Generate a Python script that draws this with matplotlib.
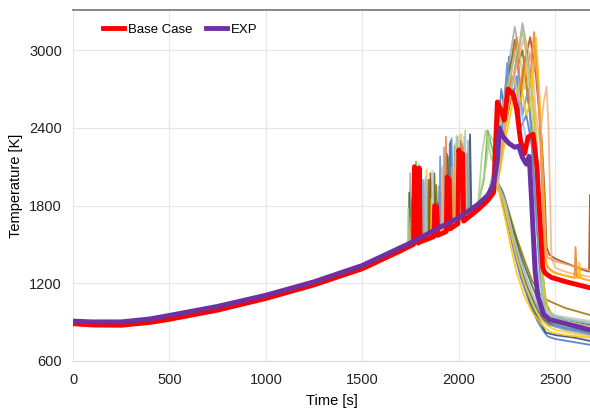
import numpy as np
import matplotlib.pyplot as plt

plt.rcParams['font.family'] = ['Liberation Sans', 'DejaVu Sans']

# shared heat-up part (before the spikes start)
base_time = [0, 100, 250, 400, 500, 750, 1000, 1250, 1500, 1700]
base_temp = [900, 895, 895, 915, 945, 1015, 1100, 1205, 1330, 1470]
base_temp_lo = [895, 888, 888, 905, 932, 998, 1082, 1183, 1302, 1440]

# ensemble runs, from 1700 s onwards
# group A: early decline, low tail
run01_time = [1700, 1760, 1763, 1770, 1905, 1908, 1915, 2040, 2043, 2050, 2100, 2150, 2190, 2210, 2230, 2260, 2290, 2320, 2350, 2380, 2410, 2440, 2460, 2500, 2600, 2680]
run01_temp = [1470, 1510, 2060, 1515, 1633, 1900, 1638, 1745, 2200, 1755, 1810, 1880, 1960, 1920, 1800, 1620, 1420, 1250, 1120, 1000, 900, 830, 790, 770, 745, 725]
run02_time = [1700, 1755, 1758, 1765, 1955, 1958, 1965, 2055, 2058, 2065, 2100, 2150, 2200, 2220, 2250, 2280, 2310, 2340, 2370, 2400, 2430, 2450, 2500, 2600, 2680]
run02_temp = [1470, 1505, 1850, 1510, 1665, 2300, 1670, 1760, 2350, 1770, 1810, 1880, 1970, 1930, 1750, 1550, 1350, 1200, 1060, 960, 880, 820, 800, 780, 755]
run03_time = [1700, 1790, 1793, 1800, 1880, 1883, 1890, 2010, 2013, 2020, 2100, 2150, 2190, 2210, 2240, 2270, 2300, 2340, 2380, 2420, 2450, 2480, 2550, 2680]
run03_temp = [1440, 1520, 2100, 1525, 1600, 1950, 1605, 1690, 2350, 1700, 1780, 1850, 1940, 1900, 1700, 1480, 1280, 1100, 980, 900, 850, 820, 800, 780]
run04_time = [1700, 1825, 1828, 1835, 1880, 1883, 1890, 1985, 1988, 1995, 2100, 2150, 2200, 2230, 2260, 2300, 2340, 2380, 2420, 2460, 2480, 2550, 2680]
run04_temp = [1470, 1565, 2000, 1570, 1620, 1960, 1625, 1690, 2200, 1695, 1810, 1880, 1980, 1900, 1750, 1550, 1380, 1220, 1120, 1070, 1055, 1010, 955]
run05_time = [1700, 1775, 1778, 1785, 1920, 1923, 1930, 2100, 2130, 2150, 2180, 2200, 2230, 2270, 2310, 2350, 2390, 2430, 2460, 2550, 2680]
run05_temp = [1470, 1515, 2140, 1520, 1645, 2050, 1650, 1810, 2000, 2380, 2200, 2000, 1850, 1600, 1350, 1150, 1000, 920, 880, 850, 820]
run06_time = [1700, 1745, 1748, 1755, 1865, 1868, 1875, 1990, 1993, 2000, 2100, 2150, 2200, 2230, 2270, 2310, 2350, 2390, 2430, 2470, 2550, 2680]
run06_temp = [1470, 1505, 2050, 1510, 1600, 1880, 1605, 1700, 2330, 1710, 1810, 1880, 1980, 1880, 1650, 1400, 1200, 1050, 950, 880, 840, 800]
run07_time = [1700, 1810, 1813, 1820, 1895, 1898, 1905, 1960, 1963, 1970, 2100, 2150, 2200, 2240, 2280, 2320, 2360, 2400, 2440, 2480, 2550, 2680]
run07_temp = [1470, 1550, 2000, 1555, 1625, 1950, 1630, 1670, 2320, 1675, 1810, 1880, 1975, 1850, 1600, 1380, 1200, 1050, 940, 880, 850, 810]
run08_time = [1700, 1785, 1788, 1795, 1850, 1853, 1860, 2020, 2023, 2030, 2100, 2150, 2200, 2240, 2280, 2320, 2360, 2400, 2440, 2470, 2550, 2680]
run08_temp = [1470, 1535, 1900, 1540, 1585, 2000, 1590, 1720, 2250, 1725, 1810, 1880, 1970, 1820, 1560, 1330, 1150, 1010, 920, 890, 870, 840]
run09_time = [1700, 1830, 1833, 1840, 1945, 1948, 1955, 2100, 2150, 2200, 2230, 2260, 2300, 2340, 2380, 2420, 2460, 2500, 2600, 2680]
run09_temp = [1440, 1550, 2080, 1555, 1640, 2150, 1645, 1780, 1850, 1950, 1850, 1650, 1400, 1200, 1050, 930, 870, 840, 810, 790]
run10_time = [1700, 1740, 1743, 1750, 1870, 1873, 1880, 1940, 1943, 1950, 2100, 2150, 2200, 2240, 2280, 2330, 2380, 2420, 2460, 2550, 2680]
run10_temp = [1470, 1500, 1900, 1505, 1605, 2050, 1610, 1660, 2180, 1665, 1810, 1880, 1975, 1840, 1620, 1380, 1180, 1040, 960, 920, 880]
# group B: big peak, then low tail
run11_time = [1700, 1780, 1783, 1790, 1890, 1893, 1900, 1950, 1953, 1960, 2100, 2150, 2180, 2200, 2220, 2240, 2260, 2280, 2300, 2320, 2350, 2380, 2400, 2420, 2440, 2470, 2550, 2680]
run11_temp = [1470, 1530, 2080, 1535, 1620, 1820, 1625, 1665, 2280, 1670, 1810, 1880, 1940, 2300, 2700, 2500, 2950, 2600, 2800, 2400, 2500, 2250, 1800, 1300, 1000, 900, 860, 830]
run12_time = [1700, 1815, 1818, 1825, 1920, 1923, 1930, 2045, 2048, 2055, 2100, 2150, 2200, 2230, 2260, 2290, 2310, 2330, 2350, 2370, 2390, 2410, 2425, 2440, 2470, 2550, 2680]
run12_temp = [1470, 1555, 1980, 1560, 1645, 2250, 1650, 1750, 2300, 1760, 1810, 1880, 2200, 2600, 2900, 3180, 3000, 3210, 3050, 2800, 2500, 2000, 1500, 1100, 950, 900, 870]
run13_time = [1700, 1760, 1763, 1770, 1840, 1843, 1850, 2005, 2008, 2015, 2100, 2150, 2200, 2230, 2260, 2290, 2310, 2330, 2360, 2390, 2410, 2430, 2450, 2480, 2550, 2680]
run13_temp = [1470, 1510, 1950, 1515, 1575, 2000, 1580, 1710, 2300, 1715, 1810, 1880, 2100, 2500, 2800, 3080, 2900, 3000, 2600, 2300, 1800, 1350, 1050, 960, 920, 890]
run14_time = [1700, 1795, 1798, 1805, 1900, 1903, 1910, 1975, 1978, 1985, 2100, 2150, 2200, 2230, 2250, 2270, 2300, 2330, 2360, 2380, 2400, 2420, 2440, 2460, 2500, 2600, 2680]
run14_temp = [1470, 1540, 2080, 1545, 1630, 2180, 1635, 1680, 2260, 1685, 1810, 1880, 2000, 2450, 2900, 2650, 2950, 2500, 2700, 2200, 1700, 1300, 1050, 930, 880, 840, 810]
run15_time = [1700, 1800, 1803, 1810, 1860, 1863, 1870, 2030, 2033, 2040, 2100, 2140, 2160, 2200, 2240, 2280, 2310, 2340, 2370, 2400, 2420, 2440, 2460, 2500, 2600, 2680]
run15_temp = [1470, 1545, 2010, 1550, 1595, 1900, 1600, 1730, 2380, 1740, 1810, 2100, 2350, 2250, 2650, 2900, 3020, 2700, 2850, 2400, 1700, 1200, 1000, 950, 920, 900]
run16_time = [1700, 1770, 1773, 1780, 1980, 1983, 1990, 2100, 2150, 2200, 2240, 2280, 2320, 2350, 2380, 2400, 2420, 2440, 2470, 2550, 2680]
run16_temp = [1440, 1500, 1950, 1505, 1670, 2280, 1675, 1780, 1850, 1950, 2300, 2600, 2750, 2500, 2650, 2300, 1700, 1150, 940, 880, 850]
# group C: peak, then high tail
run17_time = [1700, 1850, 1853, 1860, 1935, 1938, 1945, 2100, 2150, 2200, 2240, 2280, 2310, 2340, 2370, 2400, 2430, 2445, 2455, 2470, 2500, 2550, 2600, 2650, 2675, 2680]
run17_temp = [1470, 1585, 2050, 1590, 1655, 2200, 1660, 1810, 1880, 1980, 2400, 2700, 2500, 2900, 3100, 2800, 2300, 1900, 1480, 1420, 1390, 1360, 1330, 1300, 1290, 1880]
run18_time = [1700, 1765, 1768, 1775, 1910, 1913, 1920, 2100, 2150, 2200, 2250, 2300, 2340, 2380, 2400, 2420, 2440, 2455, 2465, 2480, 2500, 2550, 2600, 2680]
run18_temp = [1470, 1515, 1800, 1520, 1640, 2100, 1645, 1810, 1880, 1980, 2500, 2900, 3100, 2900, 2500, 2300, 2600, 2720, 2400, 1400, 1320, 1290, 1270, 1250]
run19_time = [1700, 1930, 1933, 1940, 2015, 2018, 2025, 2100, 2150, 2200, 2240, 2270, 2300, 2320, 2340, 2360, 2390, 2410, 2430, 2445, 2460, 2500, 2600, 2605, 2612, 2680]
run19_temp = [1470, 1655, 2330, 1660, 1715, 2280, 1720, 1810, 1880, 2000, 2500, 2800, 3100, 2700, 2950, 2600, 3140, 2800, 2000, 1400, 1320, 1280, 1240, 1480, 1250, 1220]
run20_time = [1700, 1770, 1773, 1780, 1855, 1858, 1865, 2100, 2150, 2200, 2240, 2280, 2320, 2350, 2380, 2400, 2420, 2440, 2455, 2480, 2550, 2620, 2625, 2632, 2680]
run20_temp = [1440, 1520, 2070, 1525, 1570, 1850, 1575, 1780, 1850, 1950, 2400, 2800, 2600, 2900, 2700, 3100, 2600, 1900, 1350, 1290, 1260, 1240, 1360, 1240, 1220]
run21_time = [1700, 1750, 1753, 1760, 1960, 1963, 1970, 2100, 2150, 2200, 2250, 2300, 2330, 2360, 2390, 2410, 2430, 2445, 2460, 2500, 2600, 2680]
run21_temp = [1470, 1505, 1700, 1510, 1670, 2100, 1675, 1810, 1880, 1980, 2600, 2900, 3150, 2900, 3050, 2700, 2200, 1500, 1400, 1370, 1330, 1300]
# pale runs
run22_time = [1700, 1735, 1738, 1745, 1790, 1793, 1800, 1985, 1988, 1995, 2100, 2120, 2140, 2170, 2200, 2240, 2280, 2310, 2335, 2360, 2390, 2410, 2430, 2450, 2480, 2550, 2680]
run22_temp = [1470, 1495, 1780, 1500, 1535, 2120, 1540, 1695, 2340, 1700, 1810, 2200, 2380, 2150, 2300, 2600, 2900, 3050, 3150, 2800, 2300, 1700, 1200, 980, 900, 870, 840]
run23_time = [1700, 1860, 1863, 1870, 2000, 2003, 2010, 2100, 2150, 2200, 2240, 2280, 2320, 2360, 2400, 2440, 2480, 2550, 2680]
run23_temp = [1470, 1595, 2070, 1600, 1705, 2350, 1710, 1810, 1880, 1980, 1830, 1580, 1360, 1190, 1060, 990, 960, 940, 910]
run24_time = [1700, 1825, 1828, 1835, 2025, 2028, 2035, 2100, 2150, 2200, 2230, 2260, 2290, 2320, 2350, 2380, 2410, 2440, 2470, 2550, 2680]
run24_temp = [1470, 1565, 2020, 1570, 1725, 2330, 1735, 1810, 1880, 2000, 2400, 2650, 2800, 2550, 2300, 1800, 1300, 1020, 950, 920, 890]

run_colors = ['#4472C4', '#264478', '#FFC000', '#997300', '#70AD47', '#A5A5A5', '#5B9BD5',
              '#636363', '#FFCD33', '#43682B', '#4472C4', '#A5A5A5', '#7F6000', '#698ED0',
              '#A9D18E', '#FFC000', '#9E480E', '#F4B183', '#ED7D31', '#FFC000', '#F1975A',
              '#A9D18E', '#C9C9C9', '#9DC3E6']
run_lo = [False, False, True, False, False, False, False, False, True, False, False, False,
          False, False, False, True, False, False, False, True, False, False, False, False]

# reference lines
red_time = [0, 100, 250, 400, 500, 750, 1000, 1250, 1500, 1700, 1765, 1770, 1780, 1790, 1795, 1800,
            1870, 1875, 1885, 1890, 1935, 1940, 1950, 1955, 1995, 2000, 2010, 2020, 2025, 2100, 2150,
            2180, 2200, 2215, 2235, 2255, 2285, 2300, 2320, 2340, 2360, 2385, 2405, 2420, 2435, 2445,
            2455, 2480, 2560, 2680]
red_temp = [888, 878, 876, 898, 922, 993, 1083, 1188, 1313, 1453, 1500, 2100, 2080, 1510, 2090, 1520,
            1560, 1800, 1790, 1570, 1600, 2020, 2000, 1620, 1660, 2230, 2150, 2200, 1680, 1770, 1840,
            1900, 2600, 2550, 2460, 2700, 2650, 2540, 2300, 2200, 2330, 2350, 2100, 1700, 1320, 1285,
            1270, 1245, 1210, 1165]
exp_time = [0, 100, 250, 400, 500, 750, 1000, 1250, 1500, 1750, 1900, 2000, 2100, 2150, 2180, 2200,
            2210, 2230, 2260, 2290, 2310, 2330, 2350, 2365, 2375, 2385, 2395, 2410, 2440, 2470, 2550, 2680]
exp_temp = [908, 902, 902, 925, 952, 1022, 1108, 1212, 1338, 1512, 1630, 1705, 1810, 1880, 1960, 2150,
            2400, 2330, 2280, 2250, 2260, 2170, 2120, 2180, 1900, 1600, 1300, 1100, 960, 920, 890, 840]

runs = [(run01_time, run01_temp), (run02_time, run02_temp), (run03_time, run03_temp),
        (run04_time, run04_temp), (run05_time, run05_temp), (run06_time, run06_temp),
        (run07_time, run07_temp), (run08_time, run08_temp), (run09_time, run09_temp),
        (run10_time, run10_temp), (run11_time, run11_temp), (run12_time, run12_temp),
        (run13_time, run13_temp), (run14_time, run14_temp), (run15_time, run15_temp),
        (run16_time, run16_temp), (run17_time, run17_temp), (run18_time, run18_temp),
        (run19_time, run19_temp), (run20_time, run20_temp), (run21_time, run21_temp),
        (run22_time, run22_temp), (run23_time, run23_temp), (run24_time, run24_temp)]

fig = plt.figure(figsize=(5.9, 4.08), dpi=100)
ax = fig.add_axes([73/590, 47/408, 517/590, 351/408])

for (t, T), col, lo in zip(runs, run_colors, run_lo):
    bt = base_temp_lo if lo else base_temp
    ax.plot(base_time[:-1] + t, bt[:-1] + T, color=col, lw=1.3, alpha=0.85, zorder=2)

ax.plot(red_time, red_temp, color='#FF0000', lw=3.5, label='Base Case', zorder=4)
ax.plot(exp_time, exp_temp, color='#7030A0', lw=3.5, label='EXP', zorder=5)

ax.set_xlim(0, 2680)
ax.set_ylim(600, 3310)
ax.set_xticks([0, 500, 1000, 1500, 2000, 2500])
ax.set_yticks([600, 1200, 1800, 2400, 3000])
ax.grid(True, color='#e6e6e6', lw=0.8, zorder=0)
ax.set_axisbelow(True)
ax.tick_params(axis='y', length=0, labelsize=10.5, colors='#222222', pad=8)
ax.tick_params(axis='x', length=0, labelsize=10.5, colors='#222222', pad=9)
for s in ['left', 'right']:
    ax.spines[s].set_visible(False)
ax.spines['bottom'].set_color('#d9d9d9')
ax.spines['top'].set_color('#808080')
ax.spines['top'].set_linewidth(1.3)

ax.set_xlabel('Time [s]', fontsize=10.5, labelpad=5)
ax.set_ylabel('Temperature [K]', fontsize=10.5, labelpad=4)

ax.legend(loc='upper left', bbox_to_anchor=(0.035, 0.995), ncol=2, frameon=False,
          fontsize=9.5, handlelength=1.6, handletextpad=0.3, columnspacing=1.0)

fig.savefig('out.png', dpi=100)
